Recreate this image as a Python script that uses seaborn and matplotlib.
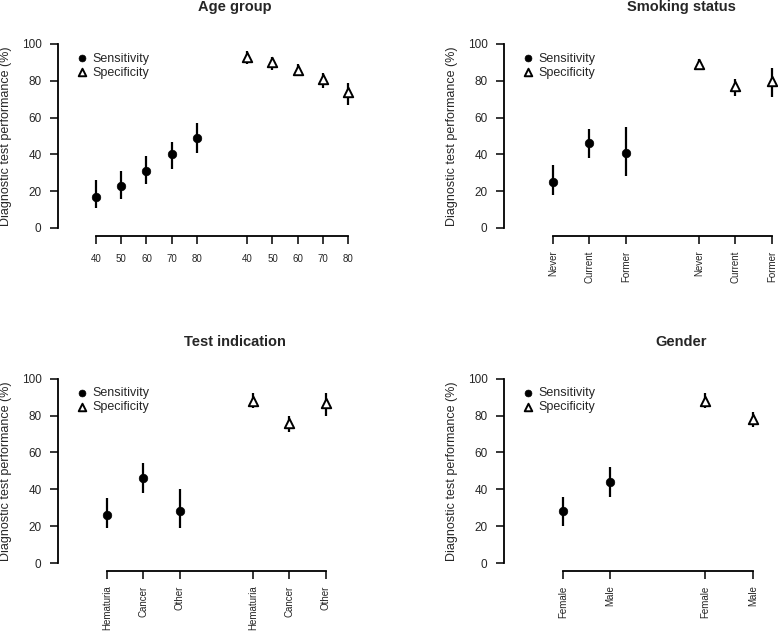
"""Sensitivity and specificity by subgroup, four panel dot-and-whisker chart."""

import matplotlib

matplotlib.use("Agg")
import matplotlib.pyplot as plt
import pandas as pd
import seaborn as sns

sns.set_theme(style="ticks")
plt.rcParams["font.family"] = ["Liberation Sans", "DejaVu Sans"]

W, H = 778, 632

# Age group
AGE_LABELS = ["40", "50", "60", "70", "80"]
AGE_SENS = [17, 23, 31, 40, 49]
AGE_SENS_LO = [11, 16, 24, 32, 41]
AGE_SENS_HI = [26, 31, 39, 47, 57]
AGE_SPEC = [93, 90, 86, 81, 74]
AGE_SPEC_LO = [89, 86, 83, 76, 67]
AGE_SPEC_HI = [96, 93, 89, 84, 79]

# Smoking status
SMOKE_LABELS = ["Never", "Current", "Former"]
SMOKE_SENS = [25, 46, 41]
SMOKE_SENS_LO = [18, 38, 28]
SMOKE_SENS_HI = [34, 54, 55]
SMOKE_SPEC = [89, 77, 80]
SMOKE_SPEC_LO = [86, 72, 71]
SMOKE_SPEC_HI = [92, 81, 87]

# Test indication
IND_LABELS = ["Hematuria", "Cancer", "Other"]
IND_SENS = [26, 46, 28]
IND_SENS_LO = [19, 38, 19]
IND_SENS_HI = [35, 54, 40]
IND_SPEC = [88, 76, 87]
IND_SPEC_LO = [84, 71, 80]
IND_SPEC_HI = [92, 80, 92]

# Gender
GENDER_LABELS = ["Female", "Male"]
GENDER_SENS = [28, 44]
GENDER_SENS_LO = [20, 36]
GENDER_SENS_HI = [36, 52]
GENDER_SPEC = [88, 78]
GENDER_SPEC_LO = [84, 74]
GENDER_SPEC_HI = [92, 82]

YLABEL = "Diagnostic test performance (%)"


def _frame(labels, sens, sens_lo, sens_hi, spec, spec_lo, spec_hi):
    n = len(labels)
    return pd.DataFrame({
        "pos": list(range(1, n + 1)) + list(range(n + 2, 2 * n + 2)),
        "label": labels + labels,
        "value": sens + spec,
        "lo": sens_lo + spec_lo,
        "hi": sens_hi + spec_hi,
        "measure": ["Sensitivity"] * n + ["Specificity"] * n,
    })


def panel(fig, geom, title, df, rotate):
    # geom: axis pixel left, first-tick pixel, tick step, xlim, y pixel of 100 and of 0
    left, first, step, (x0, x1), y100, y0 = geom
    ppu = (y0 - y100) / 100
    ylo, yhi = -4.35, 104
    width = (x1 - x0) * step
    top = y100 - (yhi - 100) * ppu
    height = (yhi - ylo) * ppu
    ax = fig.add_axes([left / W, 1 - (top + height) / H, width / W, height / H])

    ax.vlines(df["pos"], df["lo"], df["hi"], color="black", lw=1.6, zorder=2)
    sens = df[df["measure"] == "Sensitivity"]
    spec = df[df["measure"] == "Specificity"]
    sns.scatterplot(data=sens, x="pos", y="value", marker="o", color="black",
                    edgecolor="black", s=38, ax=ax, label="Sensitivity", zorder=3)
    sns.scatterplot(data=spec, x="pos", y="value", marker="^", color="white",
                    edgecolor="black", linewidth=1.4, s=46, ax=ax,
                    label="Specificity", zorder=3)

    ax.set_xlim(x0, x1)
    ax.set_ylim(ylo, yhi)
    ax.set_yticks([0, 20, 40, 60, 80, 100])
    ax.set_xticks(df["pos"])
    ax.set_xticklabels(df["label"], rotation=90 if rotate else 0,
                       fontsize=7 if rotate else 7)
    ax.tick_params(axis="y", labelsize=8.5, pad=6)
    ax.tick_params(axis="x", pad=4.5 if rotate else 7)
    ax.tick_params(direction="out", length=5.8, width=1.1, color="black")
    for side in ("top", "right"):
        ax.spines[side].set_visible(False)
    ax.spines["left"].set_bounds(0, 100)
    ax.spines["bottom"].set_bounds(df["pos"].min(), df["pos"].max())
    for side in ("left", "bottom"):
        ax.spines[side].set_linewidth(1.3)
        ax.spines[side].set_color("black")

    ax.set_xlabel("")
    ax.set_ylabel(YLABEL, fontsize=9)
    ax.yaxis.set_label_coords(-(46 / width), 0.5)

    ax.legend(loc="upper left", bbox_to_anchor=(18 / width, 1 - 16 / height),
              frameon=False, fontsize=9, handlelength=1.0, handletextpad=0.3,
              labelspacing=0.17, borderpad=0, borderaxespad=0, markerscale=0.8)

    title_x = left + 177
    fig.text(title_x / W, 1 - (top - 29.5) / H, title, ha="center",
             va="center", fontsize=10.5, fontweight="bold")
    return ax


fig = plt.figure(figsize=(W / 100, H / 100), dpi=100)

panel(fig, (58, 96, 25.2, (-0.51, 11.44), 44, 228), "Age group",
      _frame(AGE_LABELS, AGE_SENS, AGE_SENS_LO, AGE_SENS_HI,
             AGE_SPEC, AGE_SPEC_LO, AGE_SPEC_HI), rotate=False)
panel(fig, (504, 553, 36.5, (-0.34, 7.16), 44, 228), "Smoking status",
      _frame(SMOKE_LABELS, SMOKE_SENS, SMOKE_SENS_LO, SMOKE_SENS_HI,
             SMOKE_SPEC, SMOKE_SPEC_LO, SMOKE_SPEC_HI), rotate=True)
panel(fig, (58, 107, 36.5, (-0.34, 7.28), 378.7, 563), "Test indication",
      _frame(IND_LABELS, IND_SENS, IND_SENS_LO, IND_SENS_HI,
             IND_SPEC, IND_SPEC_LO, IND_SPEC_HI), rotate=True)
panel(fig, (504, 563, 47.5, (-0.24, 5.2), 378.7, 563), "Gender",
      _frame(GENDER_LABELS, GENDER_SENS, GENDER_SENS_LO, GENDER_SENS_HI,
             GENDER_SPEC, GENDER_SPEC_LO, GENDER_SPEC_HI), rotate=True)

fig.savefig("out.png", dpi=100)
plt.close(fig)
